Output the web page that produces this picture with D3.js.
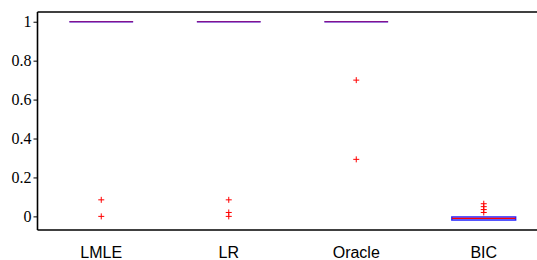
<!DOCTYPE html>
<html>
<head>
<meta charset="utf-8">
<script src="https://cdn.jsdelivr.net/npm/d3@7"></script>
<style>
  body { margin: 0; background: #fff; }
  svg { display: block; }
  .ytick text { font-family: 'Liberation Serif', 'DejaVu Serif', serif; font-size: 16px; }
  .xlab { font-family: 'Liberation Sans', Arial, sans-serif; font-size: 16px; }
</style>
</head>
<body>
<div id="chart"></div>
<script>
const categories = ['LMLE', 'LR', 'Oracle', 'BIC'];
// box stats: [q1, median, q3, whiskerLow, whiskerHigh]
const boxStats = [
  [1, 1, 1, 1, 1],
  [1, 1, 1, 1, 1],
  [1, 1, 1, 1, 1],
  [-0.018, -0.01, -0.003, -0.018, -0.003],
];
const outliers = [
  [0.085, 0],
  [0.085, 0.02, 0],
  [0.7, 0.293],
  [0.065, 0.05, 0.035, 0.02],
];
const yTicks = [0, 0.2, 0.4, 0.6, 0.8, 1];

const WIDTH = 537;
const HEIGHT = 260;
const margin = { left: 37.5, top: 12, bottom: 30 };

const svg = d3.select('#chart').append('svg')
  .attr('width', WIDTH).attr('height', HEIGHT);

const x = d3.scaleLinear().domain([0.5, 4.5]).range([margin.left, margin.left + 510]);
const y = d3.scaleLinear().domain([-0.07, 1.05]).range([HEIGHT - margin.bottom, margin.top]);

// y axis
const yAxis = d3.axisLeft(y).tickValues(yTicks).tickSize(4).tickPadding(2)
  .tickFormat((d) => d3.format('~g')(d));
const gy = svg.append('g').attr('class', 'ytick')
  .attr('transform', `translate(${margin.left},0)`).call(yAxis);
gy.select('.domain').remove();
gy.selectAll('.tick line').attr('stroke', '#000');

// frame lines
const frame = [
  [margin.left, y(-0.07), WIDTH, y(-0.07)],
  [margin.left, y(1.05), WIDTH, y(1.05)],
  [margin.left, y(1.05), margin.left, y(-0.07)],
];
svg.selectAll('line.frame').data(frame).join('line').attr('class', 'frame')
  .attr('x1', (d) => d[0]).attr('y1', (d) => d[1])
  .attr('x2', (d) => d[2]).attr('y2', (d) => d[3])
  .attr('stroke', '#000').attr('stroke-width', 1.6);

const boxHalf = 0.25;

const groups = svg.selectAll('g.box').data(categories).join('g').attr('class', 'box');

groups.each(function (cat, i) {
  const g = d3.select(this);
  const [q1, med, q3, wLo, wHi] = boxStats[i];
  const cx = i + 1;
  const x0 = x(cx - boxHalf);
  const x1 = x(cx + boxHalf);
  // whiskers
  if (wLo < q1) {
    g.append('line').attr('x1', x(cx)).attr('x2', x(cx))
      .attr('y1', y(wLo)).attr('y2', y(q1)).attr('stroke', '#000').attr('stroke-dasharray', '3,2');
  }
  if (wHi > q3) {
    g.append('line').attr('x1', x(cx)).attr('x2', x(cx))
      .attr('y1', y(q3)).attr('y2', y(wHi)).attr('stroke', '#000').attr('stroke-dasharray', '3,2');
  }
  // box
  g.append('path')
    .attr('d', `M${x0},${y(q3)}H${x1}V${y(q1)}H${x0}Z`)
    .attr('fill', 'none').attr('stroke', '#2020ff').attr('stroke-width', 1.5);
  // median
  g.append('line').attr('x1', x0).attr('x2', x1)
    .attr('y1', y(med)).attr('y2', y(med))
    .attr('stroke', '#ff0000').attr('stroke-width', 1.2)
    .attr('stroke-opacity', q3 - q1 === 0 ? 0.6 : 1);
  // outliers
  g.selectAll('path.out').data(outliers[i]).join('path').attr('class', 'out')
    .attr('d', (v) => `M${x(cx) - 3},${y(v)}H${x(cx) + 3}M${x(cx)},${y(v) - 3}V${y(v) + 3}`)
    .attr('stroke', '#ff0000').attr('stroke-width', 1);
  // label
  g.append('text').attr('class', 'xlab')
    .attr('x', x(cx)).attr('y', 258).attr('text-anchor', 'middle').text(cat);
});
</script>
</body>
</html>
